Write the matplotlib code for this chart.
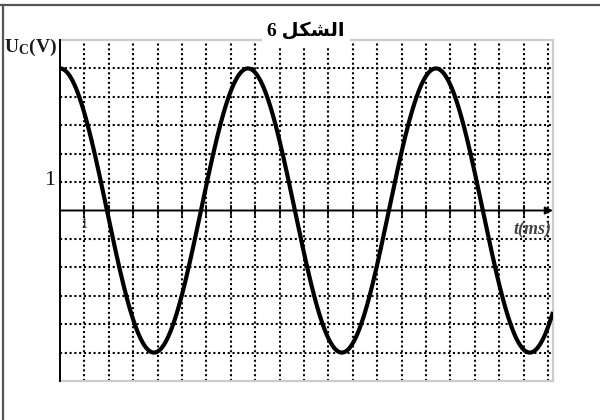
import matplotlib.pyplot as plt
import numpy as np
from matplotlib.lines import Line2D

# Data (1 division = 1 ms, 1 division = 1 V)
amplitude = 5.0      # V
period = 7.7         # ms
t_max = 20.2         # ms, right edge of the screen
y_lim = 6            # divisions above / below the axis
grid_x = np.arange(1, 21)
grid_y = [-5, -4, -3, -2, -1, 1, 2, 3, 4, 5]

title = '6 \ufede\ufedc\ufeb8\ufedf\ufe8d'   # "الشكل 6" in visual (shaped) order
y_label = r'$\mathregular{U_C(V)}$'

t = np.linspace(0, t_max, 800)
u = amplitude * np.cos(2 * np.pi * t / period)

fig = plt.figure(figsize=(6, 4.2), dpi=100)
ax = fig.add_axes([60 / 600, 39 / 420, 493 / 600, 341 / 420])

# dotted grid
for gx in grid_x:
    ax.axvline(gx, color='black', lw=1.5, linestyle=(0, (1.0, 1.3)), zorder=1)
for gy in grid_y:
    ax.axhline(gy, color='black', lw=1.5, linestyle=(0, (1.0, 1.3)), zorder=1)

# axes lines
ax.plot([0, 0], [-y_lim, y_lim], color='black', lw=1.4, zorder=3, clip_on=False)
ax.annotate('', xy=(t_max, 0), xytext=(0, 0),
            arrowprops=dict(arrowstyle='-|>', color='black', lw=1.4,
                            mutation_scale=11, shrinkA=0, shrinkB=0), zorder=3)
ax.plot(grid_x[:-1], np.zeros(len(grid_x) - 1), linestyle='none', marker='|',
        markersize=8, color='black', mew=1.2, zorder=3)

# the signal
ax.plot(t, u, color='black', lw=3.0, zorder=4, solid_capstyle='butt')

ax.set_xlim(0, t_max)
ax.set_ylim(-y_lim, y_lim)
ax.set_xticks([])
ax.set_yticks([])
for side in ['top', 'right', 'bottom']:
    ax.spines[side].set_color('#cccccc')
    ax.spines[side].set_linewidth(1.6)
ax.spines['left'].set_visible(False)

# labels
ax.text(-0.12, 5.75, y_label, ha='right', va='center', fontsize=14,
        family='Liberation Serif', weight='bold', color='#1a1a1a', clip_on=False)
ax.text(-0.2, 1.05, '1', ha='right', va='center', fontsize=16,
        family='Liberation Serif', color='#111111', clip_on=False)
ax.text(1.0, -0.5, '1', ha='center', va='center', fontsize=10,
        family='Liberation Serif', color='#222222')
ax.text(20.15, -0.68, 't(ms)', ha='right', va='center', fontsize=13,
        family='Liberation Serif', style='italic', weight='bold', color='#444444')

fig.text(306 / 600, 1 - 31 / 420, title, ha='center', va='center', fontsize=14,
         family=['Liberation Serif', 'DejaVu Sans'], weight='bold', color='black',
         bbox=dict(facecolor='white', edgecolor='none', pad=4))

# page frame
fig.add_artist(Line2D([0, 1], [1 - 5 / 420] * 2, color='#555555', lw=1.6))
fig.add_artist(Line2D([3 / 600] * 2, [0, 1 - 5 / 420], color='#555555', lw=1.6))

plt.savefig('out.png', dpi=100)
